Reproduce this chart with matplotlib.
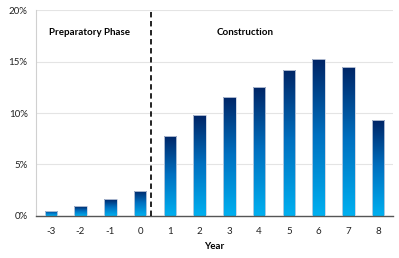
import matplotlib
matplotlib.use("Agg")
import matplotlib.pyplot as plt
import numpy as np
from matplotlib.colors import LinearSegmentedColormap
from matplotlib.ticker import FuncFormatter

years = ["-3", "-2", "-1", "0", "1", "2", "3", "4", "5", "6", "7", "8"]
shares = [0.5, 0.95, 1.6, 2.45, 7.8, 9.8, 11.6, 12.5, 14.2, 15.2, 14.5, 9.3]
yticks = [0, 5, 10, 15, 20]

plt.rcParams['font.family'] = ['Lato', 'DejaVu Sans']

fig = plt.figure(figsize=(3.99, 2.58), dpi=100)
ax = fig.add_axes([0.090, 0.163, 0.895, 0.798])

x = np.arange(len(years))
bars = ax.bar(x, shares, width=0.42, facecolor='none', edgecolor='#c8d0e0', linewidth=0.6, zorder=3)

cmap = LinearSegmentedColormap.from_list('g', ['#00B0F0', '#0070C0', '#002060'])
grad = np.linspace(0, 1, 256).reshape(-1, 1)
for b in bars:
    x0, y0 = b.get_x(), b.get_y()
    w, h = b.get_width(), b.get_height()
    im = ax.imshow(grad, cmap=cmap, origin='lower', aspect='auto',
                   extent=[x0 - 0.05, x0 + w + 0.05, y0, y0 + h * 1.03],
                   zorder=2, interpolation='bilinear')
    im.set_clip_path(b)

ax.set_xlim(-0.5, len(years) - 0.5)
ax.set_ylim(0, 20)
ax.set_xticks(x)
ax.set_xticklabels(years)
ax.set_yticks(yticks)
ax.yaxis.set_major_formatter(FuncFormatter(lambda v, p: f"{int(v)}%"))
ax.tick_params(axis='both', length=0, labelsize=7, colors='#222222')
ax.tick_params(axis='x', pad=8)
ax.tick_params(axis='y', pad=6)

ax.grid(axis='y', color='#e4e4e4', linewidth=0.8, zorder=0)
ax.set_axisbelow(True)
for s in ['top', 'right']:
    ax.spines[s].set_visible(False)
ax.spines['left'].set_color('#d0d0d0')
ax.spines['bottom'].set_color('#555555')
ax.spines['bottom'].set_linewidth(1.0)

ax.axvline(3.37, color='#111111', linestyle=(0, (3, 2)), linewidth=1.3, zorder=4)

ax.text(-0.06, 17.8, "Preparatory Phase", fontsize=7, fontweight='bold', ha='left', va='center')
ax.text(5.58, 17.8, "Construction", fontsize=7, fontweight='bold', ha='left', va='center')
ax.set_xlabel("Year", fontsize=7, fontweight='bold', labelpad=4)

fig.savefig("out.png", dpi=100)
